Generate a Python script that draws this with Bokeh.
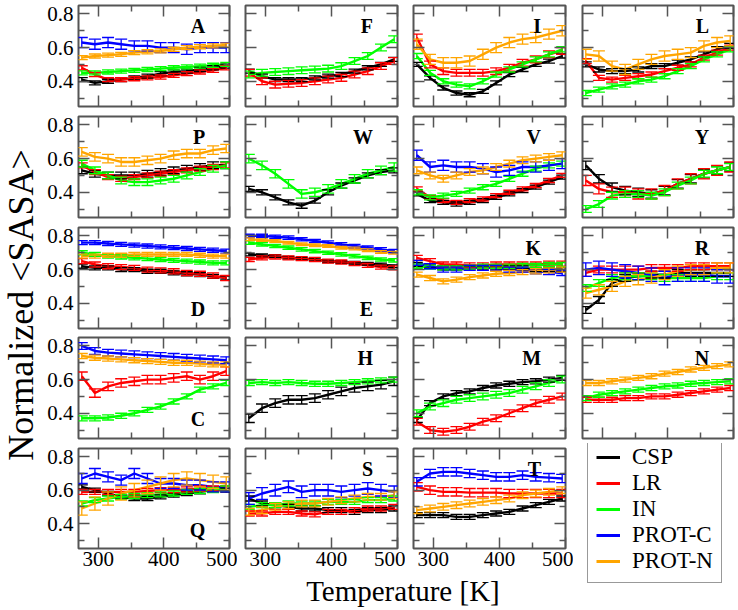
import math
from bokeh.plotting import figure
from bokeh.models import (ColumnDataSource, Whisker, TeeHead, Label, LinearAxis,
                          FixedTicker, Range1d, Legend, LegendItem, CustomJSTickFormatter)
from bokeh.layouts import row, column
from bokeh.embed import file_html
from bokeh.resources import INLINE

# ---------------- data ----------------
SERIES = ["CSP", "LR", "IN", "PROT-C", "PROT-N"]
COLORS = ["#000000", "#ff0000", "#00ff00", "#0000ff", "#ffa500"]
TEMP = [275, 295, 315, 335, 355, 375, 395, 415, 435, 455, 475, 495]
X_TICKS = [300, 400, 500]
X_MINOR = [350, 450]
Y_TICKS = [0.4, 0.6, 0.8]
Y_MINOR = [0.3, 0.5, 0.7]

A_CSP = [0.41, 0.39, 0.40, 0.41, 0.42, 0.43, 0.445, 0.455, 0.46, 0.47, 0.48, 0.49]
A_LR = [0.48, 0.44, 0.41, 0.41, 0.415, 0.42, 0.425, 0.435, 0.445, 0.455, 0.465, 0.48]
A_IN = [0.45, 0.45, 0.455, 0.46, 0.465, 0.47, 0.475, 0.48, 0.485, 0.49, 0.495, 0.50]
A_PC = [0.63, 0.62, 0.63, 0.62, 0.61, 0.61, 0.60, 0.60, 0.59, 0.60, 0.60, 0.60]
A_PN = [0.54, 0.55, 0.555, 0.56, 0.57, 0.575, 0.58, 0.59, 0.60, 0.605, 0.61, 0.615]
A_ERR = [0.012, 0.012, 0.012, 0.03, 0.012]

F_CSP = [0.46, 0.43, 0.41, 0.41, 0.41, 0.42, 0.43, 0.44, 0.46, 0.48, 0.50, 0.53]
F_LR = [0.45, 0.40, 0.38, 0.385, 0.39, 0.40, 0.41, 0.42, 0.44, 0.46, 0.49, 0.52]
F_IN = [0.44, 0.45, 0.455, 0.46, 0.465, 0.47, 0.475, 0.49, 0.52, 0.55, 0.60, 0.65]
F_ERR = [0.012, 0.02, 0.02, 0.0, 0.0]

I_CSP = [0.50, 0.42, 0.36, 0.33, 0.32, 0.34, 0.39, 0.44, 0.47, 0.50, 0.52, 0.55]
I_LR = [0.66, 0.50, 0.46, 0.45, 0.45, 0.45, 0.46, 0.48, 0.51, 0.53, 0.56, 0.58]
I_IN = [0.55, 0.45, 0.40, 0.38, 0.37, 0.40, 0.44, 0.47, 0.50, 0.53, 0.56, 0.59]
I_PN = [0.62, 0.53, 0.51, 0.51, 0.52, 0.56, 0.60, 0.63, 0.65, 0.66, 0.68, 0.70]
I_ERR = [0.012, 0.02, 0.015, 0.0, 0.03]

L_CSP = [0.50, 0.47, 0.46, 0.46, 0.47, 0.49, 0.49, 0.51, 0.53, 0.56, 0.59, 0.61]
L_LR = [0.52, 0.42, 0.41, 0.42, 0.43, 0.44, 0.46, 0.48, 0.50, 0.54, 0.57, 0.60]
L_IN = [0.33, 0.35, 0.37, 0.38, 0.40, 0.41, 0.43, 0.46, 0.49, 0.53, 0.56, 0.59]
L_PN = [0.56, 0.55, 0.49, 0.47, 0.50, 0.53, 0.55, 0.56, 0.57, 0.61, 0.63, 0.64]
L_ERR = [0.015, 0.015, 0.015, 0.0, 0.03]

P_CSP = [0.53, 0.51, 0.50, 0.50, 0.50, 0.51, 0.52, 0.53, 0.54, 0.55, 0.56, 0.56]
P_LR = [0.56, 0.52, 0.49, 0.48, 0.49, 0.50, 0.51, 0.52, 0.53, 0.54, 0.55, 0.56]
P_IN = [0.57, 0.53, 0.50, 0.47, 0.46, 0.46, 0.47, 0.48, 0.50, 0.52, 0.54, 0.56]
P_PN = [0.64, 0.61, 0.60, 0.58, 0.58, 0.59, 0.60, 0.62, 0.63, 0.63, 0.65, 0.66]
P_ERR = [0.02, 0.015, 0.02, 0.0, 0.025]

W_CSP = [0.42, 0.40, 0.37, 0.34, 0.32, 0.35, 0.40, 0.44, 0.47, 0.50, 0.52, 0.53]
W_IN = [0.60, 0.56, 0.51, 0.45, 0.39, 0.40, 0.42, 0.45, 0.48, 0.51, 0.53, 0.55]
W_ERR = [0.015, 0.0, 0.025, 0.0, 0.0]

V_CSP = [0.39, 0.35, 0.34, 0.33, 0.34, 0.35, 0.37, 0.39, 0.41, 0.43, 0.46, 0.49]
V_LR = [0.42, 0.37, 0.35, 0.34, 0.35, 0.36, 0.38, 0.40, 0.42, 0.44, 0.47, 0.50]
V_IN = [0.40, 0.37, 0.38, 0.39, 0.41, 0.43, 0.45, 0.48, 0.51, 0.54, 0.56, 0.57]
V_PC = [0.62, 0.55, 0.56, 0.55, 0.55, 0.54, 0.52, 0.53, 0.55, 0.55, 0.56, 0.57]
V_PN = [0.53, 0.50, 0.48, 0.50, 0.52, 0.53, 0.55, 0.57, 0.59, 0.60, 0.61, 0.62]
V_ERR = [0.012, 0.012, 0.015, 0.03, 0.02]

Y_CSP = [0.56, 0.48, 0.43, 0.41, 0.40, 0.39, 0.41, 0.45, 0.48, 0.51, 0.53, 0.55]
Y_LR = [0.47, 0.42, 0.40, 0.40, 0.39, 0.39, 0.41, 0.45, 0.48, 0.51, 0.53, 0.55]
Y_IN = [0.30, 0.33, 0.38, 0.39, 0.39, 0.38, 0.40, 0.44, 0.47, 0.51, 0.53, 0.55]
Y_ERR = [0.025, 0.03, 0.02, 0.0, 0.0]

D_CSP = [0.62, 0.61, 0.61, 0.60, 0.60, 0.59, 0.59, 0.58, 0.575, 0.57, 0.56, 0.55]
D_LR = [0.65, 0.63, 0.62, 0.615, 0.61, 0.60, 0.595, 0.59, 0.58, 0.575, 0.565, 0.55]
D_IN = [0.70, 0.69, 0.68, 0.675, 0.67, 0.665, 0.66, 0.655, 0.65, 0.645, 0.64, 0.64]
D_PC = [0.76, 0.76, 0.755, 0.75, 0.745, 0.74, 0.735, 0.73, 0.725, 0.72, 0.715, 0.71]
D_PN = [0.68, 0.68, 0.685, 0.685, 0.69, 0.69, 0.69, 0.69, 0.69, 0.685, 0.68, 0.68]
D_ERR = [0.012, 0.015, 0.012, 0.012, 0.012]

E_CSP = [0.69, 0.685, 0.68, 0.67, 0.665, 0.66, 0.65, 0.645, 0.64, 0.635, 0.63, 0.62]
E_LR = [0.66, 0.67, 0.675, 0.67, 0.665, 0.66, 0.65, 0.645, 0.635, 0.625, 0.615, 0.61]
E_IN = [0.76, 0.75, 0.74, 0.73, 0.72, 0.71, 0.70, 0.69, 0.68, 0.67, 0.66, 0.655]
E_PC = [0.80, 0.80, 0.795, 0.79, 0.78, 0.77, 0.76, 0.75, 0.74, 0.73, 0.72, 0.71]
E_PN = [0.78, 0.775, 0.77, 0.76, 0.75, 0.745, 0.74, 0.73, 0.725, 0.715, 0.705, 0.70]
E_ERR = [0.008, 0.012, 0.01, 0.01, 0.008]

K_CSP = [0.63, 0.62, 0.61, 0.61, 0.61, 0.61, 0.61, 0.61, 0.61, 0.60, 0.60, 0.60]
K_LR = [0.67, 0.65, 0.63, 0.63, 0.625, 0.625, 0.63, 0.63, 0.63, 0.63, 0.635, 0.635]
K_IN = [0.62, 0.615, 0.61, 0.61, 0.615, 0.62, 0.62, 0.62, 0.625, 0.625, 0.63, 0.63]
K_PC = [0.64, 0.62, 0.60, 0.60, 0.61, 0.61, 0.61, 0.60, 0.60, 0.59, 0.585, 0.58]
K_PN = [0.57, 0.55, 0.53, 0.54, 0.555, 0.565, 0.575, 0.58, 0.585, 0.59, 0.595, 0.60]
K_ERR = [0.012, 0.015, 0.012, 0.015, 0.015]

R_CSP = [0.36, 0.42, 0.52, 0.55, 0.56, 0.57, 0.57, 0.58, 0.58, 0.58, 0.58, 0.58]
R_LR = [0.58, 0.60, 0.60, 0.60, 0.60, 0.61, 0.61, 0.61, 0.62, 0.62, 0.62, 0.62]
R_IN = [0.49, 0.52, 0.55, 0.56, 0.56, 0.56, 0.55, 0.55, 0.55, 0.55, 0.56, 0.56]
R_PC = [0.60, 0.61, 0.60, 0.59, 0.58, 0.57, 0.55, 0.57, 0.57, 0.57, 0.56, 0.56]
R_PN = [0.46, 0.48, 0.50, 0.53, 0.54, 0.55, 0.57, 0.59, 0.60, 0.60, 0.61, 0.61]
R_ERR = [0.02, 0.02, 0.02, 0.04, 0.03]

C_LR = [0.62, 0.52, 0.56, 0.58, 0.59, 0.60, 0.60, 0.61, 0.62, 0.60, 0.62, 0.65]
C_IN = [0.37, 0.37, 0.375, 0.385, 0.40, 0.42, 0.44, 0.47, 0.50, 0.54, 0.56, 0.58]
C_PC = [0.80, 0.77, 0.76, 0.755, 0.75, 0.745, 0.74, 0.735, 0.73, 0.725, 0.72, 0.715]
C_PN = [0.74, 0.73, 0.725, 0.72, 0.715, 0.71, 0.705, 0.70, 0.70, 0.695, 0.69, 0.69]
C_ERR = [0.0, 0.025, 0.015, 0.02, 0.015]

H_CSP = [0.37, 0.43, 0.46, 0.48, 0.48, 0.49, 0.51, 0.53, 0.55, 0.56, 0.57, 0.59]
H_IN = [0.58, 0.585, 0.58, 0.585, 0.58, 0.575, 0.575, 0.58, 0.585, 0.59, 0.595, 0.60]
H_ERR = [0.025, 0.0, 0.015, 0.0, 0.0]

M_CSP = [0.36, 0.46, 0.50, 0.52, 0.53, 0.55, 0.565, 0.575, 0.585, 0.59, 0.60, 0.61]
M_LR = [0.35, 0.30, 0.29, 0.30, 0.32, 0.35, 0.37, 0.40, 0.43, 0.46, 0.48, 0.50]
M_IN = [0.40, 0.44, 0.46, 0.48, 0.49, 0.50, 0.51, 0.52, 0.54, 0.56, 0.58, 0.60]
M_ERR = [0.015, 0.02, 0.02, 0.0, 0.0]

N_LR = [0.48, 0.48, 0.48, 0.49, 0.49, 0.50, 0.50, 0.51, 0.52, 0.53, 0.54, 0.55]
N_IN = [0.49, 0.51, 0.52, 0.53, 0.54, 0.55, 0.56, 0.565, 0.575, 0.58, 0.585, 0.59]
N_PN = [0.58, 0.58, 0.59, 0.60, 0.61, 0.62, 0.635, 0.645, 0.66, 0.67, 0.68, 0.69]
N_ERR = [0.0, 0.015, 0.015, 0.0, 0.015]

Q_CSP = [0.62, 0.60, 0.58, 0.56, 0.55, 0.55, 0.56, 0.57, 0.58, 0.59, 0.60, 0.60]
Q_LR = [0.59, 0.59, 0.59, 0.59, 0.59, 0.595, 0.60, 0.60, 0.605, 0.61, 0.61, 0.61]
Q_IN = [0.52, 0.54, 0.55, 0.56, 0.565, 0.57, 0.575, 0.58, 0.59, 0.595, 0.60, 0.61]
Q_PC = [0.67, 0.70, 0.68, 0.66, 0.70, 0.67, 0.64, 0.64, 0.63, 0.63, 0.62, 0.62]
Q_PN = [0.49, 0.52, 0.55, 0.58, 0.60, 0.62, 0.64, 0.66, 0.67, 0.66, 0.65, 0.64]
Q_ERR = [0.012, 0.015, 0.015, 0.03, 0.04]

S_CSP = [0.55, 0.52, 0.51, 0.50, 0.49, 0.49, 0.48, 0.48, 0.47, 0.48, 0.48, 0.49]
S_LR = [0.46, 0.46, 0.47, 0.47, 0.46, 0.455, 0.47, 0.47, 0.48, 0.49, 0.49, 0.50]
S_IN = [0.50, 0.51, 0.51, 0.52, 0.52, 0.52, 0.53, 0.53, 0.53, 0.54, 0.54, 0.55]
S_PC = [0.55, 0.58, 0.60, 0.62, 0.59, 0.60, 0.60, 0.59, 0.60, 0.61, 0.60, 0.59]
S_PN = [0.47, 0.48, 0.50, 0.51, 0.52, 0.52, 0.53, 0.54, 0.55, 0.56, 0.56, 0.57]
S_ERR = [0.015, 0.015, 0.015, 0.035, 0.02]

T_CSP = [0.45, 0.45, 0.45, 0.44, 0.44, 0.45, 0.46, 0.47, 0.49, 0.51, 0.53, 0.55]
T_LR = [0.62, 0.60, 0.59, 0.59, 0.585, 0.585, 0.585, 0.58, 0.58, 0.58, 0.58, 0.58]
T_PC = [0.65, 0.70, 0.71, 0.71, 0.70, 0.69, 0.68, 0.68, 0.69, 0.68, 0.675, 0.67]
T_PN = [0.48, 0.49, 0.50, 0.51, 0.52, 0.53, 0.54, 0.55, 0.57, 0.58, 0.59, 0.60]
T_ERR = [0.015, 0.025, 0.0, 0.025, 0.02]

# panel name, series (CSP, LR, IN, PROT-C, PROT-N), errors, letter position
PANELS = [
    [("A", [A_CSP, A_LR, A_IN, A_PC, A_PN], A_ERR, "top"),
     ("F", [F_CSP, F_LR, F_IN, None, None], F_ERR, "top"),
     ("I", [I_CSP, I_LR, I_IN, None, I_PN], I_ERR, "top"),
     ("L", [L_CSP, L_LR, L_IN, None, L_PN], L_ERR, "top")],
    [("P", [P_CSP, P_LR, P_IN, None, P_PN], P_ERR, "top"),
     ("W", [W_CSP, None, W_IN, None, None], W_ERR, "top"),
     ("V", [V_CSP, V_LR, V_IN, V_PC, V_PN], V_ERR, "top"),
     ("Y", [Y_CSP, Y_LR, Y_IN, None, None], Y_ERR, "top")],
    [("D", [D_CSP, D_LR, D_IN, D_PC, D_PN], D_ERR, "bottom"),
     ("E", [E_CSP, E_LR, E_IN, E_PC, E_PN], E_ERR, "bottom"),
     ("K", [K_CSP, K_LR, K_IN, K_PC, K_PN], K_ERR, "top"),
     ("R", [R_CSP, R_LR, R_IN, R_PC, R_PN], R_ERR, "top")],
    [("C", [None, C_LR, C_IN, C_PC, C_PN], C_ERR, "bottom"),
     ("H", [H_CSP, None, H_IN, None, None], H_ERR, "top"),
     ("M", [M_CSP, M_LR, M_IN, None, None], M_ERR, "top"),
     ("N", [None, N_LR, N_IN, None, N_PN], N_ERR, "top")],
    [("Q", [Q_CSP, Q_LR, Q_IN, Q_PC, Q_PN], Q_ERR, "bottom"),
     ("S", [S_CSP, S_LR, S_IN, S_PC, S_PN], S_ERR, "top"),
     ("T", [T_CSP, T_LR, None, T_PC, T_PN], T_ERR, "top")],
]

# ---------------- layout / styling ----------------
FONT = "Liberation Serif"
FRAME_COLOR = "#555555"
YLAB_W = 40
COL_FRAME_W = [151, 152, 152, 151]
COL_BORDER_L = [38, 8, 8, 9]
COL_BORDER_R = [8, 8, 8, 2]
ROW_FRAME_H = [101, 101, 101, 101, 100]
ROW_BORDER_T = [5, 5, 5, 5, 5]
ROW_BORDER_B = [5, 5, 4, 5, 26]


def style_axis(ax, ticks, minor, show_labels, standoff=5):
    ax.ticker = FixedTicker(ticks=ticks, minor_ticks=minor)
    ax.axis_line_color = None
    ax.major_tick_in = 11
    ax.major_tick_out = 0
    ax.minor_tick_in = 6
    ax.minor_tick_out = 0
    ax.major_tick_line_color = FRAME_COLOR
    ax.minor_tick_line_color = FRAME_COLOR
    ax.major_tick_line_width = 1.5
    ax.minor_tick_line_width = 1.5
    if show_labels:
        ax.major_label_text_font = FONT
        ax.major_label_text_font_size = "21px"
        ax.major_label_text_color = "black"
        ax.major_label_standoff = standoff
    else:
        ax.formatter = CustomJSTickFormatter(code="return ''")
        ax.major_label_text_font_size = "0px"
        ax.major_label_standoff = 0


def make_panel(r, c, spec, xlabels):
    name, series, errs, pos = spec
    bl, br = COL_BORDER_L[c], COL_BORDER_R[c]
    bt, bb = ROW_BORDER_T[r], ROW_BORDER_B[r]
    p = figure(width=bl + COL_FRAME_W[c] + br, height=bt + ROW_FRAME_H[r] + bb,
               x_range=Range1d(270, 500), y_range=Range1d(0.25, 0.85),
               toolbar_location=None, output_backend="svg",
               min_border_left=bl, min_border_right=br,
               min_border_top=bt, min_border_bottom=bb)
    p.xgrid.visible = False
    p.ygrid.visible = False
    p.outline_line_color = FRAME_COLOR
    p.outline_line_width = 2
    style_axis(p.xaxis[0], X_TICKS, X_MINOR, xlabels, standoff=3)
    style_axis(p.yaxis[0], Y_TICKS, Y_MINOR, c == 0, standoff=5)
    top = LinearAxis()
    right = LinearAxis()
    style_axis(top, X_TICKS, X_MINOR, False)
    style_axis(right, Y_TICKS, Y_MINOR, False)
    p.add_layout(top, "above")
    p.add_layout(right, "right")

    for vals, err, color in zip(series, errs, COLORS):
        if vals is None:
            continue
        src = ColumnDataSource(dict(
            x=TEMP, y=vals,
            upper=[v + err for v in vals],
            lower=[v - err for v in vals]))
        p.line("x", "y", source=src, line_color=color, line_width=2.4)
        w = Whisker(source=src, base="x", upper="upper", lower="lower",
                    line_color=color, line_width=1.3,
                    upper_head=TeeHead(size=12, line_color=color, line_width=1.3),
                    lower_head=TeeHead(size=12, line_color=color, line_width=1.3),
                    level="glyph")
        p.add_layout(w)

    ly = 0.728 if pos == "top" else 0.363
    p.add_layout(Label(x=463, y=ly, text=name, text_align="right",
                       text_baseline="middle", text_font=FONT,
                       text_font_size="20px", text_font_style="bold",
                       text_color="black"))
    return p


def blank(w, h):
    f = figure(width=w, height=h, min_border=0, toolbar_location=None,
               output_backend="svg", x_range=Range1d(0, 1), y_range=Range1d(0, 1),
               x_axis_location=None, y_axis_location=None)
    f.xgrid.visible = False
    f.ygrid.visible = False
    f.outline_line_color = None
    return f


grid_rows = []
for r, specs in enumerate(PANELS[:4]):
    grid_rows.append(row(*[make_panel(r, c, s, False) for c, s in enumerate(specs)]))

bottom_figs = [make_panel(4, c, s, True) for c, s in enumerate(PANELS[4])]
w3 = sum(COL_BORDER_L[c] + COL_FRAME_W[c] + COL_BORDER_R[c] for c in range(3))
w4 = COL_BORDER_L[3] + COL_FRAME_W[3] + COL_BORDER_R[3]
h5 = ROW_BORDER_T[4] + ROW_FRAME_H[4] + ROW_BORDER_B[4]
XLAB_H = 35

# x title (centred under the four columns, as in the original)
xlab = blank(w3, XLAB_H)
xlab.add_layout(Label(x=0.68, y=0.54, text="Temperature [K]", text_align="center",
                      text_baseline="middle", text_font=FONT,
                      text_font_size="29px", text_color="black"))

# legend cell
leg = blank(w4, h5 + XLAB_H)
items = []
for s, col in zip(SERIES, COLORS):
    rr = leg.line(x=[0, 1], y=[-5, -5], line_color=col, line_width=3)
    items.append(LegendItem(label=s, renderers=[rr]))
legend = Legend(items=items, location=(14, 26), label_text_font=FONT,
                label_text_font_size="23px", label_text_color="black",
                label_text_line_height=0.98,
                glyph_width=24, glyph_height=20, label_height=20,
                spacing=0, padding=8, margin=0, label_standoff=12,
                border_line_color="#333333", border_line_width=1.5,
                background_fill_alpha=1.0)
leg.add_layout(legend)

# y title
total_h = sum(ROW_BORDER_T[r] + ROW_FRAME_H[r] + ROW_BORDER_B[r] for r in range(5)) + XLAB_H
ylab = blank(YLAB_W, total_h)
ylab.add_layout(Label(x=0.5, y=0.5, text="Normalized <SASA>", angle=math.pi / 2,
                      text_align="center", text_baseline="middle", text_font=FONT,
                      text_font_size="36px", text_color="black"))

bottom = row(column(row(*bottom_figs), xlab), leg)
layout = row(ylab, column(*grid_rows, bottom))

open("out.html", "w").write(file_html(layout, INLINE, "SASA"))
